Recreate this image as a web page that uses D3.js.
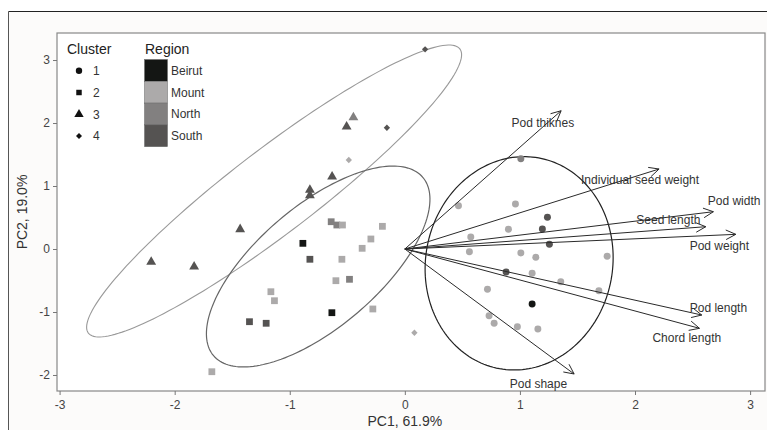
<!DOCTYPE html>
<html><head><meta charset="utf-8">
<script src="https://cdn.jsdelivr.net/npm/d3@7"></script>
<style>body{margin:0;background:#fff;} text{font-family:"Liberation Sans",Arial,sans-serif;}</style>
</head><body>
<svg id="chart" width="767" height="430"></svg>
<script>
// ---------- data ----------
const regions = ["Beirut","Mount","North","South"];
const regionColors = ["#141614","#acaaaa","#828080","#555352"];
const clusters = ["1","2","3","4"];

// cluster 1 (circles)
const c1x = [1.008,0.466,0.961,1.239,1.195,0.900,0.573,1.256,0.561,1.008,1.138,1.758,0.880,1.106,1.355,1.686,0.718,1.106,0.732,0.776,0.978,1.156];
const c1y = [1.433,0.687,0.714,0.503,0.317,0.313,0.190,0.075,-0.043,-0.063,-0.132,-0.116,-0.365,-0.386,-0.519,-0.662,-0.640,-0.873,-1.059,-1.179,-1.233,-1.270];
const c1r = ["North","Mount","Mount","South","South","Mount","Mount","South","Mount","Mount","Mount","Mount","South","Mount","Mount","Mount","Mount","Beirut","Mount","Mount","Mount","Mount"];
// cluster 2 (squares)
const c2x = [-0.886,-0.825,-0.640,-0.591,-0.542,-0.195,-0.295,-0.371,-0.547,-0.599,-0.481,-1.164,-1.133,-0.634,-0.278,-1.350,-1.205,-1.677];
const c2y = [0.090,-0.163,0.433,0.381,0.381,0.360,0.159,0.011,-0.163,-0.503,-0.481,-0.678,-0.821,-1.011,-0.952,-1.154,-1.179,-1.948];
const c2r = ["Beirut","South","North","North","Mount","Mount","Mount","Mount","Mount","Mount","North","Mount","Mount","Beirut","Mount","South","South","Mount"];
// cluster 3 (triangles)
const c3x = [-2.204,-1.831,-1.431,-0.825,-0.825,-0.632,-0.506,-0.447];
const c3y = [-0.206,-0.281,0.313,0.937,0.852,1.148,1.941,2.090];
const c3r = ["South","South","South","South","South","South","South","North"];
// cluster 4 (diamonds)
const c4x = [0.176,-0.156,-0.487,0.083];
const c4y = [3.170,1.925,1.413,-1.329];
const c4r = ["South","South","Mount","Mount"];

// variable loadings (arrows) and label anchors
const varNames = ["Pod thiknes","Individual seed weight","Pod width","Seed length","Pod weight","Pod length","Chord length","Pod shape"];
const varX = [1.358,2.209,2.681,2.615,2.876,2.580,2.560,1.471];
const varY = [2.195,1.270,0.592,0.354,0.233,-1.048,-1.259,-1.984];
const labX = [1.199,2.044,2.861,2.290,2.733,2.725,2.450,1.161];
const labY = [2.005,1.095,0.767,0.460,0.052,-0.941,-1.417,-2.132];

// concentration ellipses: centre and two conjugate semi-axis vectors (data units)
const ellCluster = ["3","2","1"];
const ellCx = [-1.136,-0.753,0.993];
const ellCy = [0.921,-0.278,-0.227];
const ellUx = [1.614,0.909,0.817];
const ellUy = [2.256,1.416,0.090];
const ellVx = [0.222,0.342,0.0];
const ellVy = [-0.529,-0.733,-1.691];

const xTicks = [-3,-2,-1,0,1,2,3];
const yTicks = [-2,-1,0,1,2,3];

// ---------- layout ----------
const svg = d3.select("#chart");
const P = {l:57, r:765, t:33, b:391};
const x = d3.scaleLinear().domain([-3.0225,3.1295]).range([P.l,P.r]);
const y = d3.scaleLinear().domain([-2.254,3.429]).range([P.b,P.t]);

// outer frame / background
svg.append("rect").attr("x",0).attr("y",0).attr("width",767).attr("height",430).attr("fill","#ffffff");
svg.append("rect").attr("x",8.5).attr("y",11.5).attr("width",770).attr("height",430).attr("fill","#fcfbfa").attr("stroke","none");
svg.append("line").attr("x1",8.5).attr("x2",767).attr("y1",11.5).attr("y2",11.5).attr("stroke","#222").attr("stroke-width",1.2);
svg.append("line").attr("x1",8.5).attr("x2",8.5).attr("y1",11.5).attr("y2",430).attr("stroke","#555").attr("stroke-width",1);

// panel
svg.append("rect").attr("x",P.l).attr("y",P.t).attr("width",P.r-P.l).attr("height",P.b-P.t)
  .attr("fill","#ffffff").attr("stroke","#888").attr("stroke-width",1.2);

// axes
const xAxis = d3.axisBottom(x).tickValues(xTicks).tickSize(4).tickPadding(5).tickFormat(d3.format("d"));
const gx = svg.append("g").attr("transform",`translate(0,${P.b})`).call(xAxis);
const yAxis = d3.axisLeft(y).tickValues(yTicks).tickSize(4).tickPadding(3).tickFormat(d3.format("d"));
const gy = svg.append("g").attr("transform",`translate(${P.l},0)`).call(yAxis);
[gx,gy].forEach(g=>{
  g.select(".domain").remove();
  g.selectAll(".tick line").attr("stroke","#777");
  g.selectAll(".tick text").attr("fill","#444").attr("font-size",12).attr("font-family","Liberation Sans, Arial, sans-serif");
});
gx.selectAll(".tick text").text(d=>d<0?"-"+Math.abs(d):d);
gy.selectAll(".tick text").text(d=>d<0?"-"+Math.abs(d):d);

svg.append("text").attr("x",x(0)).attr("y",426).attr("text-anchor","middle")
  .attr("font-size",14).attr("fill","#333").text("PC1, 61.9%");
svg.append("text").attr("transform",`translate(27,${(P.t+P.b)/2}) rotate(-90)`).attr("text-anchor","middle")
  .attr("font-size",14).attr("fill","#333").text("PC2, 19.0%");

// ellipses
const ellStroke = ["#999","#666","#222"];
const ellWidth = [1.1,1.2,1.2];
const ts = d3.range(0,361,2).map(d=>d*Math.PI/180);
ellCluster.forEach((c,i)=>{
  const pts = ts.map(t=>[x(ellCx[i]+ellUx[i]*Math.cos(t)+ellVx[i]*Math.sin(t)),
                         y(ellCy[i]+ellUy[i]*Math.cos(t)+ellVy[i]*Math.sin(t))]);
  svg.append("path").attr("d",d3.line().curve(d3.curveLinearClosed)(pts))
    .attr("fill","none").attr("stroke",ellStroke[i]).attr("stroke-width",ellWidth[i]);
});

// points
const color = d3.scaleOrdinal().domain(regions).range(regionColors);
const symTypes = [d3.symbolCircle,d3.symbolSquare,d3.symbolTriangle,d3.symbolSquare];
const symRot = [0,0,0,45];
const symSizes = [38,46,42,20];
const sets = [[c1x,c1y,c1r],[c2x,c2y,c2r],[c3x,c3y,c3r],[c4x,c4y,c4r]];
sets.forEach((s,k)=>{
  const data = s[0].map((v,i)=>({x:v,y:s[1][i],r:s[2][i]}));
  svg.append("g").selectAll("path").data(data).join("path")
    .attr("transform",d=>`translate(${x(d.x)},${y(d.y)}) rotate(${symRot[k]})`)
    .attr("d",d3.symbol().type(symTypes[k]).size(symSizes[k]))
    .attr("fill",d=>color(d.r));
});

// arrows
const ag = svg.append("g");
varNames.forEach((n,i)=>{
  const x0=x(0), y0=y(0), x1=x(varX[i]), y1=y(varY[i]);
  const ang = Math.atan2(y1-y0,x1-x0);
  const L=11, a=0.45;
  ag.append("line").attr("x1",x0).attr("y1",y0).attr("x2",x1).attr("y2",y1).attr("stroke","#2a2a2a").attr("stroke-width",1);
  ag.append("path").attr("d",`M${x1-L*Math.cos(ang-a)},${y1-L*Math.sin(ang-a)}L${x1},${y1}L${x1-L*Math.cos(ang+a)},${y1-L*Math.sin(ang+a)}`)
    .attr("fill","none").attr("stroke","#2a2a2a").attr("stroke-width",1);
  ag.append("text").attr("x",x(labX[i])).attr("y",y(labY[i])).attr("dy","0.35em").attr("text-anchor","middle")
    .attr("font-size",12).attr("fill","#333").text(n);
});

// legend
const lg = svg.append("g");
lg.append("text").attr("x",67).attr("y",54).attr("font-size",14).attr("fill","#222").text("Cluster");
lg.append("text").attr("x",145).attr("y",54).attr("font-size",14).attr("fill","#222").text("Region");
const legSym = [32,30,38,18];
clusters.forEach((c,i)=>{
  const yy = 70.7 + i*21.8;
  lg.append("path").attr("transform",`translate(79,${yy}) rotate(${symRot[i]})`).attr("d",d3.symbol().type(symTypes[i]).size(legSym[i])).attr("fill","#111");
  lg.append("text").attr("x",93).attr("y",yy).attr("dy","0.35em").attr("font-size",12).attr("fill","#333").text(c);
});
regions.forEach((r,i)=>{
  const yy = 59.5 + i*21.8;
  lg.append("rect").attr("x",144.5).attr("y",yy).attr("width",23).attr("height",21.8).attr("fill",regionColors[i]).attr("stroke","#666").attr("stroke-width",0.5);
  lg.append("text").attr("x",171).attr("y",yy+11).attr("dy","0.35em").attr("font-size",12).attr("fill","#333").text(r);
});
</script>
</body></html>
